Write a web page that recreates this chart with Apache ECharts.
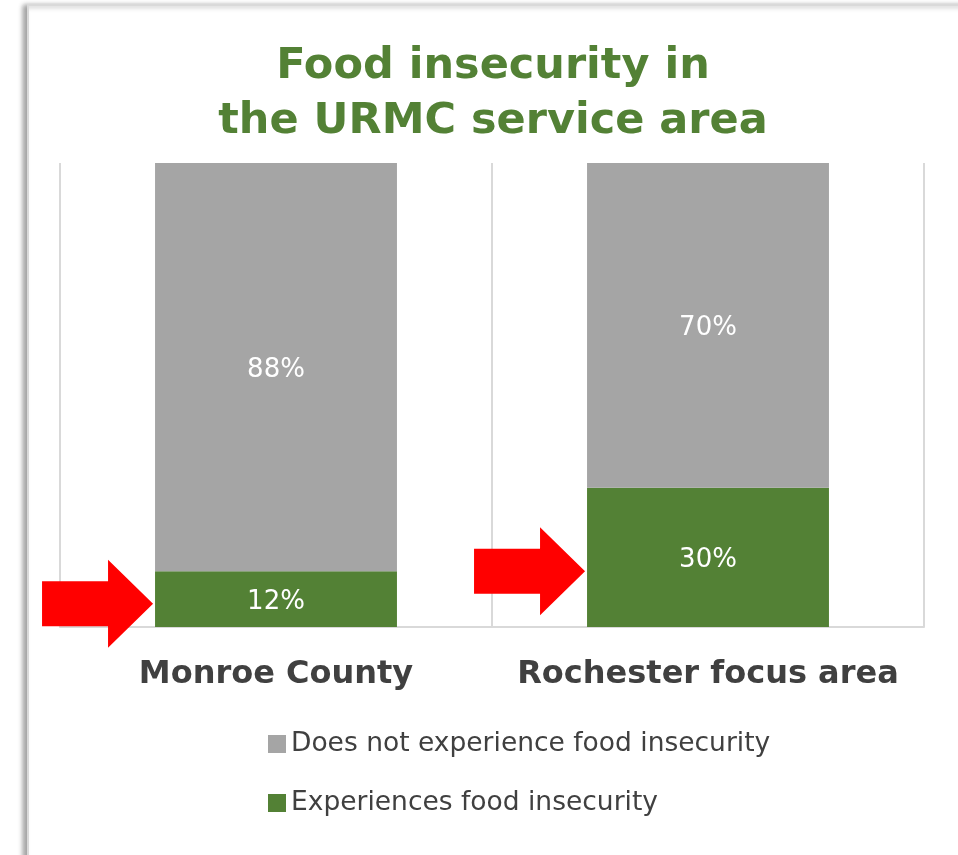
<!DOCTYPE html>
<html>
<head>
<meta charset="utf-8">
<script src="https://cdn.jsdelivr.net/npm/echarts@6/dist/echarts.min.js"></script>
<style>
html,body{margin:0;padding:0;background:#fff;}
#chart{width:958px;height:855px;}
</style>
</head>
<body>
<div id="chart"></div>
<script>
const titleText = 'Food insecurity in\nthe URMC service area';
const categories = ['Monroe County', 'Rochester focus area'];
const seriesNames = ['Does not experience food insecurity', 'Experiences food insecurity'];
const experiences = [12, 30];
const doesNotExperience = [88, 70];
// annotation arrows: value-axis level of each arrow's centre (in %)
const arrowLevels = [5, 12];

const GREEN = '#538135';
const GRAY = '#a5a5a5';
const TEXT = '#404040';

const chart = echarts.init(document.getElementById('chart'), null, {renderer: 'canvas'});

const labelStyle = {
  show: true,
  position: 'inside',
  offset: [0, 3],
  formatter: '{c}%',
  color: '#ffffff',
  fontFamily: 'DejaVu Sans',
  fontSize: 26
};

chart.setOption({
  animation: false,
  backgroundColor: '#ffffff',
  title: {
    text: titleText,
    left: 493,
    top: 39,
    padding: 0,
    textAlign: 'center',
    textStyle: {
      color: GREEN,
      fontFamily: 'DejaVu Sans',
      fontWeight: 'bold',
      fontSize: 43,
      lineHeight: 55
    }
  },
  legend: {
    orient: 'vertical',
    left: 263,
    top: 724,
    itemWidth: 18,
    itemHeight: 18,
    itemGap: 29,
    icon: 'rect',
    data: [seriesNames[0], seriesNames[1]],
    textStyle: {
      color: TEXT,
      fontFamily: 'DejaVu Sans',
      fontSize: 26.5,
      lineHeight: 30
    }
  },
  grid: {
    left: 60,
    right: 34,
    top: 163,
    bottom: 228,
    containLabel: false
  },
  xAxis: {
    type: 'category',
    data: categories,
    axisLine: {show: true, lineStyle: {color: '#d9d9d9', width: 2}},
    axisTick: {show: false},
    splitLine: {show: true, lineStyle: {color: '#d9d9d9', width: 2}},
    axisLabel: {
      interval: 0,
      hideOverlap: false,
      color: TEXT,
      fontFamily: 'DejaVu Sans',
      fontWeight: 'bold',
      fontSize: 32,
      margin: 32
    }
  },
  yAxis: {
    type: 'value',
    min: 0,
    max: 100,
    show: false,
    splitLine: {show: false}
  },
  series: [
    {
      name: seriesNames[1],
      type: 'bar',
      stack: 'total',
      barWidth: '56%',
      itemStyle: {color: GREEN},
      label: labelStyle,
      data: experiences
    },
    {
      name: seriesNames[0],
      type: 'bar',
      stack: 'total',
      barWidth: '56%',
      itemStyle: {color: GRAY},
      label: labelStyle,
      data: doesNotExperience
    }
  ]
});

// frame + arrows, positioned through the chart's own coordinate system
function addGraphics() {
  const c0 = chart.convertToPixel({gridIndex: 0}, [0, 0]);
  const c1 = chart.convertToPixel({gridIndex: 0}, [1, 0]);
  const band = c1[0] - c0[0];
  const elements = [{
    type: 'rect',
    z: -10,
    shape: {x: 28, y: 5, width: 960, height: 900},
    style: {
      fill: '#ffffff',
      stroke: '#d9d9d9',
      lineWidth: 2,
      shadowBlur: 5,
      shadowOffsetX: -4,
      shadowOffsetY: 1,
      shadowColor: 'rgba(0,0,0,0.35)'
    }
  }];
  arrowLevels.forEach(function (lvl, i) {
    const p = chart.convertToPixel({gridIndex: 0}, [i, lvl]);
    const tipX = p[0] - band * 0.28 - 2;
    const y = p[1];
    const len = 111, head = 45, hh = 44, sh = 22.5;
    elements.push({
      type: 'polygon',
      z: 100,
      shape: {
        points: [
          [tipX - len, y - sh], [tipX - head, y - sh], [tipX - head, y - hh],
          [tipX, y], [tipX - head, y + hh], [tipX - head, y + sh], [tipX - len, y + sh]
        ]
      },
      style: {fill: '#ff0000'}
    });
  });
  chart.setOption({graphic: {elements: elements}});
}
addGraphics();
</script>
</body>
</html>
